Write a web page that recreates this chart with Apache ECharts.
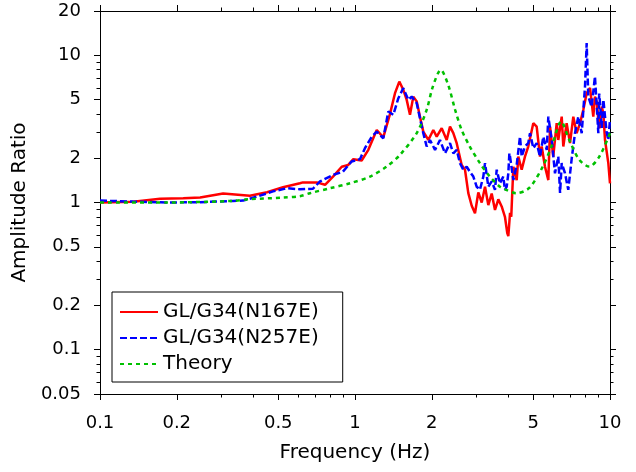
<!DOCTYPE html>
<html>
<head>
<meta charset="utf-8">
<script src="https://cdn.jsdelivr.net/npm/echarts@6/dist/echarts.min.js"></script>
<style>
  html, body { margin: 0; padding: 0; background: #fff; }
  #chart { width: 636px; height: 472px; }
</style>
</head>
<body>
<div id="chart"></div>
<script>
// ticks / labels
const majorTicksX = [0.1, 0.2, 0.5, 1, 2, 5, 10];
const minorTicksX = [0.3, 0.4, 0.6, 0.7, 0.8, 0.9, 3, 4, 6, 7, 8, 9];
const majorTicksY = [0.05, 0.1, 0.2, 0.5, 1, 2, 5, 10, 20];
const minorTicksY = [0.06, 0.07, 0.08, 0.09, 0.3, 0.4, 0.6, 0.7, 0.8, 0.9, 3, 4, 6, 7, 8, 9];

const seriesNames = ['GL/G34(N167E)', 'GL/G34(N257E)', 'Theory'];

// GL/G34 (N167E)
const redFreq = [0.1, 0.135, 0.172, 0.212, 0.247, 0.304, 0.387, 0.452, 0.522, 0.608, 0.625, 0.708, 0.763, 0.820, 0.887,
  0.941, 0.985, 1.062, 1.128, 1.217, 1.291, 1.372, 1.435, 1.492, 1.547, 1.595, 1.643, 1.693, 1.746, 1.798, 1.853,
  1.939, 2.028, 2.091, 2.188, 2.289, 2.358, 2.43, 2.505, 2.541, 2.62, 2.70, 2.782, 2.869, 2.955, 3.045, 3.14, 3.235,
  3.333, 3.436, 3.54, 3.648, 3.76, 3.873, 3.955, 3.993, 4.055, 4.10, 4.178, 4.306, 4.37, 4.505, 4.64, 4.78, 5.003,
  5.158, 5.315, 5.398, 5.56, 5.73, 5.82, 5.99, 6.18, 6.27, 6.466, 6.56, 6.76, 6.97, 7.18, 7.40, 7.63, 7.86, 8.10,
  8.35, 8.60, 8.73, 8.88, 9.0, 9.14, 9.28, 9.42, 9.56, 9.85, 10];
const redAmp = [1.0, 1.01, 1.06, 1.07, 1.08, 1.15, 1.11, 1.175, 1.27, 1.35, 1.37, 1.37, 1.32, 1.50, 1.75,
  1.80, 1.97, 1.93, 2.28, 3.11, 2.77, 4.0, 5.53, 6.63, 5.82, 4.98, 3.94, 5.24, 4.85, 3.83, 3.03,
  2.66, 3.11, 2.80, 3.20, 2.66, 3.28, 2.96, 2.53, 2.57, 1.80, 1.67, 1.157, 0.95, 0.846, 1.17, 1.0, 1.28,
  0.96, 1.15, 0.89, 1.05, 0.94, 0.80, 0.62, 0.59, 0.85, 0.80, 1.75, 1.42, 2.05, 1.67, 2.05, 2.40, 3.46,
  3.28, 2.05, 2.40, 1.75, 1.42, 3.28, 2.05, 3.46, 2.66, 3.83, 2.40, 3.46, 2.53, 3.83, 2.96, 3.46, 4.26, 5.53,
  6.0, 3.83, 5.24, 4.80, 3.64, 3.20, 4.48, 4.00, 2.66, 1.85, 1.35];

// GL/G34 (N257E)
const blueFreq = [0.1, 0.135, 0.183, 0.247, 0.332, 0.364, 0.413, 0.477, 0.541, 0.608, 0.684, 0.729, 0.820, 0.897,
  0.970, 1.046, 1.094, 1.163, 1.217, 1.291, 1.351, 1.413, 1.479, 1.547, 1.618, 1.669, 1.746, 1.798, 1.853, 1.91,
  1.968, 2.06, 2.154, 2.254, 2.358, 2.43, 2.505, 2.58, 2.659, 2.742, 2.82, 2.911, 3.0, 3.09, 3.186, 3.235, 3.333,
  3.436, 3.54, 3.595, 3.70, 3.815, 3.873, 3.935, 3.993, 4.03, 4.055, 4.178, 4.306, 4.436, 4.505, 4.64, 4.78, 4.857,
  5.003, 5.158, 5.315, 5.476, 5.648, 5.73, 5.91, 6.085, 6.27, 6.37, 6.466, 6.66, 6.86, 7.08, 7.29, 7.51, 7.745,
  7.98, 8.10, 8.22, 8.47, 8.73, 9.0, 9.07, 9.14, 9.28, 9.42, 9.56, 9.70, 9.85, 10];
const blueAmp = [1.03, 1.014, 1.0, 1.005, 1.025, 1.03, 1.097, 1.19, 1.25, 1.23, 1.24, 1.39, 1.54, 1.62,
  1.90, 1.97, 2.34, 2.80, 3.03, 2.73, 4.15, 3.94, 5.11, 5.98, 4.98, 5.24, 4.73, 3.74, 2.96, 2.40,
  2.66, 2.28, 2.66, 2.16, 2.53, 2.16, 2.28, 1.85, 1.67, 1.75, 1.62, 1.50, 1.28, 1.22, 1.50, 1.85, 1.28,
  1.39, 1.22, 1.67, 1.35, 1.50, 1.22, 1.28, 1.58, 2.16, 2.05, 1.42, 1.80, 2.80, 2.05, 2.40, 2.53, 2.96,
  2.34, 2.53, 2.05, 2.80, 2.28, 3.83, 2.66, 1.58, 2.05, 1.16, 1.85, 1.58, 1.22, 2.0, 2.96, 3.83, 2.96,
  6.13, 12.1, 5.24, 4.48, 7.17, 2.96, 5.50, 4.73, 3.2, 5.00, 3.83, 3.00, 2.66, 3.64];

// Theory
const theoryFreq = [0.1, 0.183, 0.332, 0.387, 0.522, 0.608, 0.666, 0.798, 0.956, 1.145, 1.331, 1.50, 1.746, 1.91,
  2.02, 2.17, 2.32, 2.47, 2.62, 2.82, 3.09, 3.38, 3.70, 3.91, 4.28, 4.81, 5.45, 5.96, 6.43, 6.92, 7.58, 8.30, 9.08, 10];
const theoryAmp = [1.0, 1.0, 1.025, 1.053, 1.08, 1.104, 1.157, 1.25, 1.352, 1.50, 1.753, 2.105, 2.96, 4.26,
  6.13, 7.96, 6.29, 4.26, 3.11, 2.40, 1.85, 1.50, 1.28, 1.22, 1.157, 1.25, 1.753, 2.53, 3.55, 2.66, 1.95, 1.753, 2.05, 2.96];

const FONT = 'DejaVu Sans';

const pairs = (xs, ys) => xs.map((x, i) => [x, ys[i]]);
const fmt = v => String(+(+v).toPrecision(3));

// one axis per side for major ticks, one more for the short minor ticks
function makeAxis(dim, position, ticks, len, withLabels) {
  const isX = dim === 'x';
  return {
    type: 'log',
    logBase: 10,
    position: position,
    min: isX ? 0.1 : 0.05,
    max: isX ? 10 : 20,
    axisLine: { show: true, lineStyle: { color: '#000', width: 1 } },
    axisTick: { show: true, inside: false, length: len, customValues: ticks, lineStyle: { color: '#000', width: 1 } },
    axisLabel: {
      show: withLabels,
      customValues: ticks,
      formatter: fmt,
      color: '#000',
      fontFamily: FONT,
      fontSize: 18,
      margin: isX ? 20 : 19
    },
    splitLine: { show: false },
    minorTick: { show: false }
  };
}

const xAxes = [
  makeAxis('x', 'bottom', majorTicksX, 6, true),
  makeAxis('x', 'bottom', minorTicksX, 3.5, false),
  makeAxis('x', 'top', majorTicksX, 6, false),
  makeAxis('x', 'top', minorTicksX, 3.5, false)
];
Object.assign(xAxes[0], {
  name: 'Frequency (Hz)',
  nameLocation: 'middle',
  nameGap: 49,
  nameTextStyle: { color: '#000', fontFamily: FONT, fontSize: 20 }
});

const yAxes = [
  makeAxis('y', 'left', majorTicksY, 6, true),
  makeAxis('y', 'left', minorTicksY, 3.5, false),
  makeAxis('y', 'right', majorTicksY, 6, false),
  makeAxis('y', 'right', minorTicksY, 3.5, false)
];
Object.assign(yAxes[0], {
  name: 'Amplitude Ratio',
  nameLocation: 'middle',
  nameGap: 66,
  nameTextStyle: { color: '#000', fontFamily: FONT, fontSize: 20 }
});

const chart = echarts.init(document.getElementById('chart'), null, { renderer: 'canvas' });

const option = {
  animation: false,
  backgroundColor: '#fff',
  grid: { left: 100, right: 26, top: 11, bottom: 78, containLabel: false, outerBoundsMode: 'none' },
  legend: {
    orient: 'vertical',
    left: 112,
    top: 292,
    data: seriesNames,
    itemWidth: 38,
    itemHeight: 12,
    itemGap: 6,
    padding: [10, 24, 8, 7],
    borderColor: '#000',
    borderWidth: 1,
    borderRadius: 0,
    // hide the marker dot, keep the line sample
    itemStyle: { opacity: 0, color: 'transparent', borderWidth: 0 },
    textStyle: { color: '#000', fontFamily: FONT, fontSize: 20 }
  },
  xAxis: xAxes,
  yAxis: yAxes,
  series: [
    {
      name: seriesNames[0],
      type: 'line',
      data: pairs(redFreq, redAmp),
      symbol: 'none',
      lineStyle: { color: '#ff0000', width: 2.5, type: 'solid' },
      itemStyle: { color: '#ff0000' }
    },
    {
      name: seriesNames[1],
      type: 'line',
      data: pairs(blueFreq, blueAmp),
      symbol: 'none',
      lineStyle: { color: '#0000ff', width: 2.5, type: [7, 3] },
      itemStyle: { color: '#0000ff' }
    },
    {
      name: seriesNames[2],
      type: 'line',
      data: pairs(theoryFreq, theoryAmp),
      symbol: 'none',
      smooth: 0.3,
      lineStyle: { color: '#00c000', width: 2.5, type: [4, 4] },
      itemStyle: { color: '#00c000' }
    }
  ]
};

chart.setOption(option);
</script>
</body>
</html>
